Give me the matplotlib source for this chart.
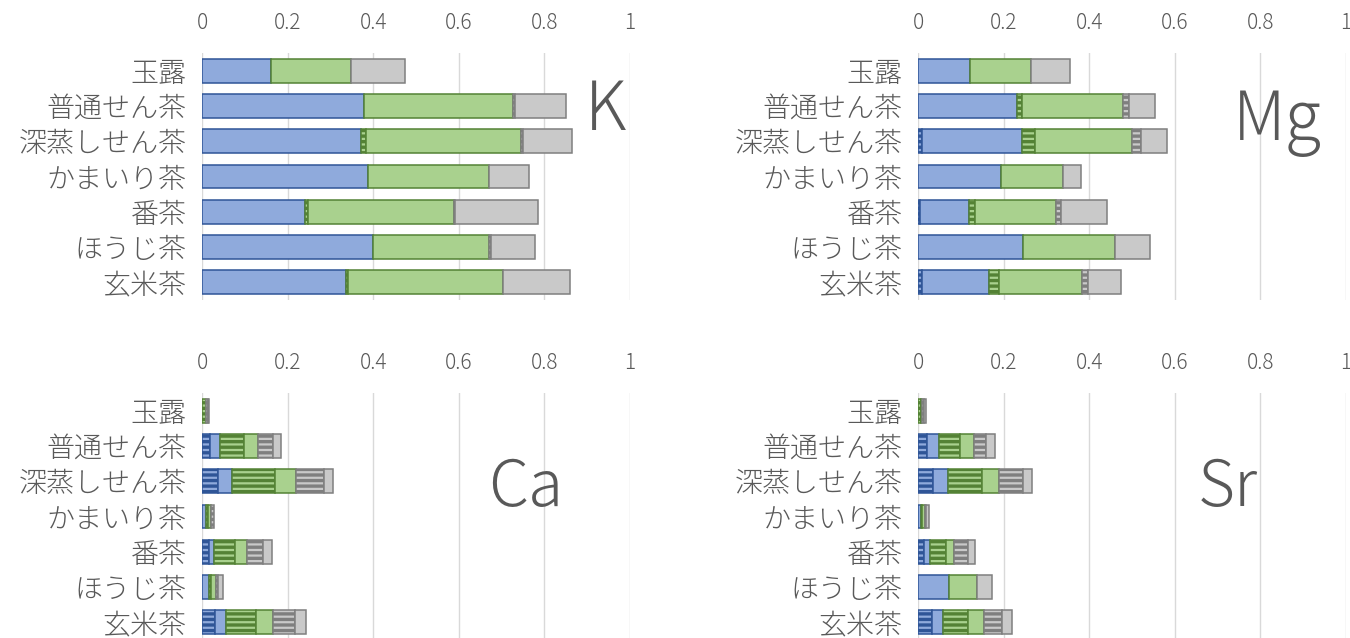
import numpy as np
import matplotlib
matplotlib.use('Agg')
import matplotlib.pyplot as plt

plt.rcParams['font.family'] = ['Noto Sans CJK JP', 'DejaVu Sans']
plt.rcParams['hatch.linewidth'] = 2.4

# 茶の種類
categories = ['玉露', '普通せん茶', '深蒸しせん茶', 'かまいり茶', '番茶', 'ほうじ茶', '玄米茶']

# K
k_blue_h = [0, 0, 0, 0, 0, 0, 0]
k_blue = [0.161, 0.378, 0.371, 0.388, 0.241, 0.399, 0.336]
k_green_h = [0, 0, 0.012, 0, 0.007, 0, 0.005]
k_green = [0.186, 0.349, 0.362, 0.283, 0.340, 0.272, 0.363]
k_gray_h = [0, 0.005, 0.005, 0, 0.004, 0.005, 0]
k_gray = [0.128, 0.118, 0.114, 0.093, 0.192, 0.101, 0.156]

# Mg
mg_blue_h = [0, 0, 0.009, 0, 0.005, 0, 0.009]
mg_blue = [0.122, 0.232, 0.233, 0.195, 0.113, 0.246, 0.158]
mg_green_h = [0, 0.012, 0.032, 0, 0.016, 0, 0.022]
mg_green = [0.141, 0.236, 0.227, 0.143, 0.188, 0.214, 0.194]
mg_gray_h = [0, 0.012, 0.019, 0, 0.012, 0, 0.014]
mg_gray = [0.091, 0.061, 0.061, 0.043, 0.108, 0.083, 0.077]

# Ca
ca_blue_h = [0, 0.019, 0.037, 0, 0.016, 0, 0.030]
ca_blue = [0, 0.023, 0.034, 0.009, 0.013, 0.016, 0.026]
ca_green_h = [0.010, 0.057, 0.100, 0.004, 0.049, 0.005, 0.070]
ca_green = [0, 0.033, 0.048, 0.009, 0.026, 0.012, 0.040]
ca_gray_h = [0.004, 0.033, 0.066, 0.006, 0.039, 0.005, 0.052]
ca_gray = [0.002, 0.020, 0.021, 0, 0.020, 0.011, 0.024]

# Sr
sr_blue_h = [0, 0.022, 0.035, 0, 0.014, 0, 0.032]
sr_blue = [0, 0.026, 0.034, 0.007, 0.013, 0.072, 0.026]
sr_green_h = [0.007, 0.050, 0.080, 0.003, 0.039, 0, 0.059]
sr_green = [0.002, 0.033, 0.040, 0.006, 0.019, 0.066, 0.037]
sr_gray_h = [0.004, 0.029, 0.056, 0.003, 0.032, 0, 0.042]
sr_gray = [0.006, 0.020, 0.021, 0.007, 0.017, 0.034, 0.024]

ticks = [0, 0.2, 0.4, 0.6, 0.8, 1]
tick_labels = ['0', '0.2', '0.4', '0.6', '0.8', '1']

TEXT = '#595959'
# (塗り, 枠/ハッチ色)
BLUE = ('#8FAADC', '#2F5597')
GREEN = ('#A9D18E', '#548235')
GRAY = ('#C9C9C9', '#7F7F7F')


def draw_panel(ax, segs, name, name_xy, name_size):
    y = np.arange(len(categories))
    left = np.zeros(len(categories))
    styles = [(BLUE, True), (BLUE, False), (GREEN, True), (GREEN, False),
              (GRAY, True), (GRAY, False)]
    for w, ((fc, ec), hatched) in zip(segs, styles):
        w = np.array(w)
        lw = np.where(w > 0, 1.1, 0)
        ax.barh(y, w, left=left, height=0.68, color=fc, edgecolor=ec,
                linewidth=lw, hatch='---' if hatched else None, zorder=3)
        left += w

    ax.set_xlim(0, 1)
    ax.set_ylim(len(categories) - 0.5, -0.5)
    ax.set_xticks(ticks)
    ax.set_xticklabels(tick_labels, fontweight='light')
    ax.set_yticks(y)
    ax.set_yticklabels(categories, fontweight='light')
    ax.xaxis.tick_top()
    ax.tick_params(axis='x', length=0, pad=14, labelsize=15, colors=TEXT)
    ax.tick_params(axis='y', length=0, pad=11, labelsize=20.2, colors=TEXT)
    ax.grid(axis='x', color='#D9D9D9', linewidth=1.0, zorder=0)
    for s in ax.spines.values():
        s.set_visible(False)
    ax.text(name_xy[0], name_xy[1], name, fontsize=name_size, color=TEXT,
            ha='center', va='center', fontweight='light', zorder=4)


fig = plt.figure(figsize=(13.5, 6.38), dpi=100)
w = 428 / 1350
h = 247 / 638
ax_k = fig.add_axes([202 / 1350, 338 / 638, w, h])
ax_mg = fig.add_axes([918 / 1350, 338 / 638, w, h])
ax_ca = fig.add_axes([202 / 1350, -2 / 638, w, h])
ax_sr = fig.add_axes([918 / 1350, -2 / 638, w, h])

draw_panel(ax_k, [k_blue_h, k_blue, k_green_h, k_green, k_gray_h, k_gray],
           'K', (0.942, 1.15), 48)
draw_panel(ax_mg, [mg_blue_h, mg_blue, mg_green_h, mg_green, mg_gray_h, mg_gray],
           'Mg', (0.839, 1.45), 48)
draw_panel(ax_ca, [ca_blue_h, ca_blue, ca_green_h, ca_green, ca_gray_h, ca_gray],
           'Ca', (0.757, 2.2), 46)
draw_panel(ax_sr, [sr_blue_h, sr_blue, sr_green_h, sr_green, sr_gray_h, sr_gray],
           'Sr', (0.724, 2.2), 46)

fig.savefig('out.png', dpi=100)
